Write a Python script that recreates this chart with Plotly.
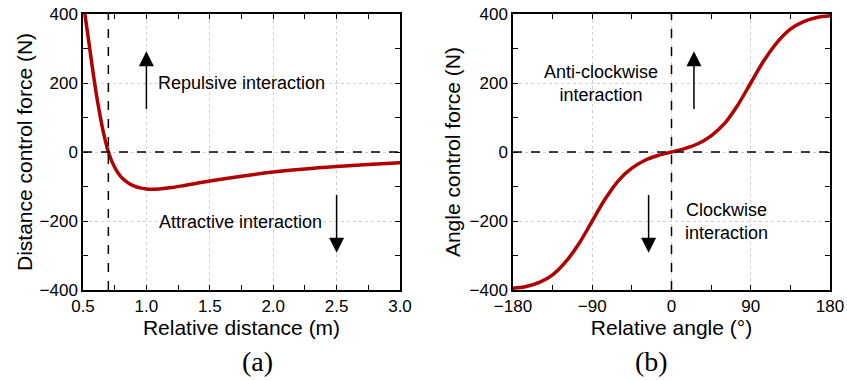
import plotly.graph_objects as go

# Panel (a): distance control force
dist_x = [0.515, 0.54, 0.57, 0.60, 0.63, 0.66, 0.70, 0.75, 0.80, 0.85, 0.90, 0.95,
          1.0, 1.05, 1.1, 1.2, 1.3, 1.5, 1.75, 2.0, 2.25, 2.5, 2.75, 3.0]
dist_y = [400, 335, 255, 180, 115, 58, 0, -45, -72, -88, -98, -104,
          -107, -108, -107, -103, -97, -84, -70, -58, -49, -42, -36, -31]

# Panel (b): angle control force
ang_x = [-180, -165, -150, -135, -120, -105, -90, -75, -60, -45, -30, -15, 0,
         15, 30, 45, 60, 75, 90, 105, 120, 135, 150, 165, 180]
ang_y = [-395, -390, -378, -356, -318, -265, -200, -135, -82, -47, -24, -10, 0,
         10, 24, 47, 82, 135, 200, 265, 318, 356, 378, 390, 395]

dist_ticks = [0.5, 1.0, 1.5, 2.0, 2.5, 3.0]
ang_ticks = [-180, -90, 0, 90, 180]
force_ticks = [-400, -200, 0, 200, 400]

RED = "#B00000"
SANS = "Liberation Sans, Arial, sans-serif"
SERIF = "Liberation Serif, Times New Roman, serif"

fig = go.Figure()
fig.add_trace(go.Scatter(x=dist_x, y=dist_y, mode="lines", line=dict(color=RED, width=3.5, shape="spline", smoothing=0.9),
                         xaxis="x", yaxis="y", showlegend=False, hoverinfo="skip"))
fig.add_trace(go.Scatter(x=ang_x, y=ang_y, mode="lines", line=dict(color=RED, width=3.5, shape="spline", smoothing=1.0),
                         xaxis="x2", yaxis="y2", showlegend=False, hoverinfo="skip"))

common = dict(showline=True, linecolor="black", linewidth=1.5, mirror="allticks",
              ticks="inside", ticklen=5, tickwidth=1.2, tickcolor="black",
              showgrid=True, gridcolor="#d0d0d0", griddash="dot", gridwidth=1,
              zeroline=False, automargin=False,
              tickfont=dict(family=SANS, size=17, color="black"),
              title_font=dict(family=SANS, size=21, color="black"))

fig.update_layout(
    width=847, height=380, margin=dict(l=0, r=0, t=0, b=0, autoexpand=False),
    paper_bgcolor="white", plot_bgcolor="white",
    xaxis=dict(domain=[83/847, 400/847], range=[0.5, 3.0], tickvals=dist_ticks,
               ticktext=["0.5", "1.0", "1.5", "2.0", "2.5", "3.0"],
               minor=dict(dtick=0.25, ticks="inside", ticklen=5, tickcolor="black", showgrid=False),
               title=dict(text="Relative distance (m)", standoff=5), anchor="y", **common),
    yaxis=dict(domain=[1-290/380, 1-14/380], range=[-400, 400], tickvals=force_ticks,
               minor=dict(dtick=100, ticks="inside", ticklen=5, tickcolor="black", showgrid=False),
               title=dict(text="Distance control force (N)", standoff=1), anchor="x", **common),
    xaxis2=dict(domain=[513/847, 830/847], range=[-180, 180], tickvals=ang_ticks,
                minor=dict(dtick=45, ticks="inside", ticklen=5, tickcolor="black", showgrid=False),
                title=dict(text="Relative angle (°)", standoff=5), anchor="y2", **common),
    yaxis2=dict(domain=[1-290/380, 1-14/380], range=[-400, 400], tickvals=force_ticks,
                minor=dict(dtick=100, ticks="inside", ticklen=5, tickcolor="black", showgrid=False),
                title=dict(text="Angle control force (N)", standoff=3), anchor="x2", **common),
)

dash = dict(color="black", width=1.5, dash="dash")
fig.add_shape(type="line", xref="x", yref="y", x0=0.5, x1=3.0, y0=0, y1=0, line=dash)
fig.add_shape(type="line", xref="x", yref="y", x0=0.7, x1=0.7, y0=-400, y1=400, line=dash)
fig.add_shape(type="line", xref="x2", yref="y2", x0=-180, x1=180, y0=0, y1=0, line=dash)
fig.add_shape(type="line", xref="x2", yref="y2", x0=0, x1=0, y0=-400, y1=400, line=dash)

tf = dict(family=SANS, size=18, color="black")
fig.add_annotation(xref="x", yref="y", x=1.75, y=200, text="Repulsive interaction", showarrow=False, font=tf)
fig.add_annotation(xref="x", yref="y", x=1.74, y=-202, text="Attractive interaction", showarrow=False, font=tf)
fig.add_annotation(xref="x2", yref="y2", x=-80, y=198, text="Anti-clockwise<br>interaction", showarrow=False, font=tf)
fig.add_annotation(xref="x2", yref="y2", x=63, y=-202, text="Clockwise<br>interaction", showarrow=False, font=tf)

arrow = dict(showarrow=True, arrowhead=2, arrowsize=2.0, arrowwidth=1.5, arrowcolor="black", text="")
fig.add_annotation(xref="x", yref="y", axref="x", ayref="y", x=1.0, y=292, ax=1.0, ay=120, **arrow)
fig.add_annotation(xref="x", yref="y", axref="x", ayref="y", x=2.5, y=-292, ax=2.5, ay=-120, **arrow)
fig.add_annotation(xref="x2", yref="y2", axref="x2", ayref="y2", x=25.5, y=292, ax=25.5, ay=120, **arrow)
fig.add_annotation(xref="x2", yref="y2", axref="x2", ayref="y2", x=-26, y=-292, ax=-26, ay=-120, **arrow)

lf = dict(family=SERIF, size=28, color="black")
fig.add_annotation(xref="paper", yref="paper", x=240/847, y=1-361/380, text="(a)", showarrow=False, font=lf, yanchor="middle")
fig.add_annotation(xref="paper", yref="paper", x=670/847, y=1-361/380, text="(b)", showarrow=False, font=lf, yanchor="middle")

fig.write_html("out.html")
